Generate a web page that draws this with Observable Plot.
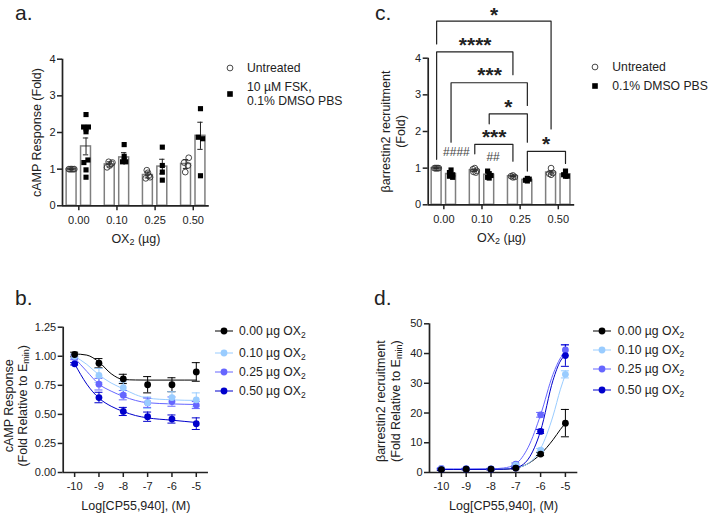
<!DOCTYPE html>
<html><head><meta charset="utf-8">
<script src="https://cdn.jsdelivr.net/npm/d3@7"></script>
<script src="https://cdn.jsdelivr.net/npm/@observablehq/plot@0.6"></script>
<style>
html,body{margin:0;padding:0;background:#fff}
#page{position:relative;width:709px;height:513px;overflow:hidden;font-family:"Liberation Sans",Arial,sans-serif;color:#222}
.tag{position:absolute;font-size:21px;line-height:21px}
.lg{position:absolute;font-size:12.2px;line-height:14px;white-space:nowrap}
.lg sub{font-size:8.5px;line-height:0}
.key{position:absolute;overflow:visible}
</style></head><body><div id="page"></div>
<script>
const INK = "#222", BAR = "#7f7f7f";
const doseLabels = ["0.00","0.10","0.25","0.50"];
const concTicks = [-10,-9,-8,-7,-6,-5];
const doseSeries = ["0.00 µg OX~2~","0.10 µg OX~2~","0.25 µg OX~2~","0.50 µg OX~2~"];
const doseColors = ["#000000","#99ccff","#6666ff","#0000cc"];

// Panel a
const aUntreatedMean = [1.0,1.13,0.84,1.14];
const aUntreatedErr  = [0.01,0.07,0.08,0.12];
const aFskMean = [1.62,1.32,1.07,1.91];
const aFskErr  = [0.23,0.13,0.20,0.37];
const aUntreatedPts = [[1,1,1,1,1],[1.05,1.2,1.15,1.18,1.1],[0.97,0.9,0.75,0.78,0.82],[1.31,1.18,1.1,0.92]];
const aUntreatedSlots = [[-1,-0.5,0,0.5,1],[-1,-0.4,0.6,1,0],[-0.4,0,-0.8,0.8,0.3],[1,-0.7,0.7,-0.3]];
const aFskPts = [[2.49,2.15,2.15,2.02,2.1,1.18,1.25,0.98,0.78],[1.67,1.35,1.25,1.2,1.2],[1.6,1.1,0.92,0.7],[2.65,1.87,1.83,0.82]];
const aFskSlots = [[0,-0.9,0.9,0,0,-0.8,0.7,0,0],[0,0,0,-0.6,0.6],[0,0,0,0],[0,-0.8,0.8,0]];

// Panel c
const cUntreatedMean = [1.0,0.94,0.78,0.88];
const cUntreatedErr  = [0.01,0.03,0.01,0.04];
const cDmsoMean = [0.84,0.82,0.68,0.83];
const cDmsoErr  = [0.04,0.04,0.02,0.03];
const cUntreatedPts = [[1,1,1,1,1],[1.0,0.97,0.93,0.9,0.88],[0.8,0.78,0.76,0.75],[1.0,0.87,0.85,0.82]];
const cUntreatedSlots = [[-0.8,-0.4,0,0.4,0.8],[0,-0.7,0.7,-0.5,0.4],[0,-0.7,0.7,0],[0,0.7,-0.7,0]];
const cDmsoPts = [[0.95,0.88,0.82,0.78,0.75],[0.92,0.85,0.8,0.75,0.73],[0.7,0.67,0.65,0.72],[0.92,0.82,0.78,0.78]];
const cDmsoSlots = [[0,-0.6,0.6,-0.6,0.6],[-0.6,0,0.7,-0.6,0],[0.7,-0.7,0,0],[0,-0.7,0.7,0]];
// group index + series (0 untreated, 1 DMSO) of each bracket foot, bracket top and foot heights
const brLeftGroup  = [0,0,0,1,1,2];
const brLeftSeries = [0,0,1,1,0,1];
const brRightGroup = [3,2,2,2,2,3];
const brRightSeries= [0,0,1,1,0,1];
const brTop   = [5.01,4.17,3.33,2.48,1.65,1.46];
const brLeftEnd  = [4.39,1.24,1.71,2.21,1.39,0.92];
const brRightEnd = [2.07,3.55,2.71,1.71,1.19,1.13];
const brStars = ["*","****","***","*","***","*"];
const brStarX = [1.32,0.82,1.2,1.69,1.32,2.68];
const brStarY = [5.25,4.42,3.6,2.72,1.9,1.73];
const hashLabels = ["####","##"];
const hashX = [0.33,1.29];
const hashY = [1.45,1.31];

// Panel b
const bMeans = [[1.015,0.94,0.805,0.755,0.755,0.865],[1.0,0.835,0.73,0.60,0.645,0.625],[0.99,0.76,0.665,0.60,0.61,0.58],[0.935,0.645,0.525,0.48,0.46,0.42]];
const bErrs  = [[0.02,0.04,0.04,0.07,0.06,0.08],[0.02,0.06,0.05,0.05,0.05,0.06],[0.02,0.05,0.04,0.04,0.04,0.03],[0.01,0.045,0.035,0.04,0.035,0.05]];
const bCurveX = [-10,-9.5,-9,-8.5,-8,-7.5,-7,-6,-5];
const bCurves = [[1.02,1.01,0.95,0.85,0.80,0.796,0.795,0.795,0.795],[1.0,0.93,0.84,0.77,0.72,0.67,0.64,0.625,0.62],[0.985,0.87,0.76,0.70,0.655,0.62,0.60,0.59,0.585],[0.935,0.76,0.64,0.57,0.525,0.49,0.47,0.45,0.43]];

// Panel d
const dMeans = [[1,1.1,1.1,1.5,6.2,16.6],[1.2,1.2,1.2,2.5,7.5,33],[1.4,1.3,1.2,2.8,19.4,41.2],[1,1.1,1.1,1.5,13.8,39.3]];
const dErrs  = [[0.3,0.2,0.2,0.3,0.5,4.6],[0.2,0.2,0.2,0.3,0.6,1.2],[0.2,0.2,0.2,0.4,0.8,1.8],[0.2,0.2,0.2,0.3,0.7,3.6]];
const dCurveX = [-10,-9,-8,-7.5,-7,-6.5,-6,-5.5,-5.2,-5];
const dCurves = [[1,1,1.05,1.1,1.5,3,6.2,11,14.5,16.6],[1.1,1.1,1.1,1.2,1.6,3,8,19,28,33],[1.2,1.2,1.25,1.5,2.9,8.5,19.4,33,38.5,40.5],[1,1,1.05,1.1,1.6,4.5,14,31,37.5,39.5]];

const FONT = '"Liberation Sans",Arial,sans-serif';
const page = document.getElementById("page");

// ~x~ in a text becomes a lowered, smaller tspan
function applySubs(svg){
  svg.querySelectorAll("text, tspan").forEach(el=>{
    if(el.children.length || !el.textContent.includes("~")) return;
    const parts = el.textContent.split("~"); el.textContent = "";
    parts.forEach((p,i)=>{
      if(!p) return;
      const t = document.createElementNS("http://www.w3.org/2000/svg","tspan");
      t.textContent = p;
      if(i%2){t.setAttribute("baseline-shift","-22%");t.setAttribute("font-size","72%");}
      el.appendChild(t);
    });
  });
}
function place(svg,left,top){
  applySubs(svg);
  svg.style.position="absolute";svg.style.left=left+"px";svg.style.top=top+"px";
  page.appendChild(svg);
}
function axes({xDomain,yDomain,xTicks,xFormat,yTicks,yFormat,xLabel,xLabelDy,yLabel,yLabelDx,yLabelDy=0}){
  return [
    Plot.axisX({ticks:xTicks,tickFormat:xFormat,tickSize:5,tickPadding:5,strokeWidth:1.5,stroke:INK,fill:INK,label:null,fontSize:11}),
    Plot.axisY({ticks:yTicks,tickFormat:yFormat,tickSize:5,tickPadding:2,strokeWidth:1.5,stroke:INK,fill:INK,label:null,fontSize:11}),
    Plot.ruleY([yDomain[0]],{x1:xDomain[0],x2:xDomain[1],stroke:INK,strokeWidth:1.7}),
    Plot.ruleX([xDomain[0]],{y1:yDomain[0],y2:yDomain[1],stroke:INK,strokeWidth:1.7}),
    Plot.text([xLabel],{frameAnchor:"bottom",lineAnchor:"middle",dy:xLabelDy,fontSize:12.5,fill:INK}),
    Plot.text([yLabel],{frameAnchor:"left",textAnchor:"middle",lineAnchor:"middle",rotate:-90,dx:yLabelDx,dy:yLabelDy,fontSize:12.5,lineHeight:1.2,fill:INK})
  ];
}
const tidy = (means,errs,pts,slots)=>({
  bars: means.map((m,g)=>({g,m,e:errs[g]})),
  points: pts.flatMap((vs,g)=>vs.map((v,i)=>({g,v,s:slots[g][i]})))
});
const OFF=0.189, HW=0.13, CAP=0.07, SLOT=0.07;
function barMarks(t,series,symbol){
  const o = series? OFF : -OFF;
  const isOpen = symbol==="circle";
  return [
    Plot.rectY(t.bars,{x1:d=>d.g+o-HW,x2:d=>d.g+o+HW,y1:0,y2:"m",fill:"#fff",stroke:BAR,strokeWidth:1.5}),
    Plot.ruleX(t.bars,{x:d=>d.g+o,y1:d=>d.m-d.e,y2:d=>d.m+d.e,stroke:INK,strokeWidth:1}),
    Plot.ruleY(t.bars,{x1:d=>d.g+o-CAP,x2:d=>d.g+o+CAP,y:d=>d.m+d.e,stroke:INK,strokeWidth:1}),
    Plot.ruleY(t.bars,{x1:d=>d.g+o-CAP,x2:d=>d.g+o+CAP,y:d=>d.m-d.e,stroke:INK,strokeWidth:1}),
    isOpen
      ? Plot.dot(t.points,{x:d=>d.g+o+d.s*SLOT,y:"v",r:2.9,fill:"none",stroke:"#333",strokeWidth:0.9})
      : Plot.dot(t.points,{x:d=>d.g+o+d.s*SLOT,y:"v",symbol:"square",r:2.9,fill:"#000",stroke:"none"})
  ];
}
function barPanel({left,top,width,height,marginLeft,marginTop,marginBottom,xDomain,yLabel,yLabelDx,extra=[],left0,right0}){
  const yDomain=[0,4];
  return place(Plot.plot({
    width,height,marginLeft,marginTop,marginBottom,marginRight:width-marginLeft-(xDomain[1]-xDomain[0])*38.15,
    style:{fontFamily:FONT,fontSize:"11px",background:"transparent",overflow:"visible"},
    x:{domain:xDomain},y:{domain:yDomain},
    marks:[
      ...barMarks(left0.t,0,"circle"),
      ...barMarks(right0.t,1,"square"),
      ...axes({xDomain,yDomain,xTicks:[0,1,2,3],xFormat:i=>doseLabels[i],yTicks:[0,1,2,3,4],yFormat:d=>`${d}`,xLabel:"OX~2~ (µg)",xLabelDy:33,yLabel,yLabelDx}),
      ...extra
    ]
  }),left,top);
}

// panel a
barPanel({left:0,top:0,width:215,height:260,marginLeft:62,marginTop:58.7,marginBottom:54.7,xDomain:[-0.4275,3.42],
  yLabel:"cAMP Response (Fold)",yLabelDx:-26,
  left0:{t:tidy(aUntreatedMean,aUntreatedErr,aUntreatedPts,aUntreatedSlots)},
  right0:{t:tidy(aFskMean,aFskErr,aFskPts,aFskSlots)}});

// panel c brackets
const footX=(g,s)=>g+(s?OFF:-OFF);
const bracketPts = brTop.flatMap((top,i)=>{
  const a=footX(brLeftGroup[i],brLeftSeries[i]), b=footX(brRightGroup[i],brRightSeries[i]);
  return [{i,x:a,y:brLeftEnd[i]},{i,x:a,y:top},{i,x:b,y:top},{i,x:b,y:brRightEnd[i]}];
});
const bracketMarks=[
  Plot.line(bracketPts,{x:"x",y:"y",z:"i",stroke:INK,strokeWidth:1.2,curve:"linear"}),
  Plot.text(brStars.map((s,i)=>({s,x:brStarX[i],y:brStarY[i]})),{x:"x",y:"y",text:"s",fontSize:21,fontWeight:"bold",fill:INK,dy:2.5}),
  Plot.text(hashLabels.map((s,i)=>({s,x:hashX[i],y:hashY[i]})),{x:"x",y:"y",text:"s",fontSize:12,fill:"#444"})
];
barPanel({left:360,top:0,width:215,height:260,marginLeft:67.7,marginTop:57.7,marginBottom:55.7,xDomain:[-0.41,3.43],
  yLabel:"βarrestin2 recruitment\n(Fold)",yLabelDx:-35.5,extra:bracketMarks,
  left0:{t:tidy(cUntreatedMean,cUntreatedErr,cUntreatedPts,cUntreatedSlots)},
  right0:{t:tidy(cDmsoMean,cDmsoErr,cDmsoPts,cDmsoSlots)}});

// dose-response panels
function drPanel({left,top,width,height,marginLeft,marginTop,marginBottom,xDomain,yDomain,yTicks,yFormat,step,means,errs,curveX,curves,yLabel,yLabelDx,yLabelDy}){
  const capX=4/step;
  const curveMarks=[], errMarks=[], dotMarks=[];
  doseSeries.forEach((_,k)=>{
    const color=doseColors[k];
    const rows=concTicks.map((x,i)=>({x,m:means[k][i],e:errs[k][i]}));
    const lineRows=curveX.map((x,i)=>({x,y:curves[k][i]}));
    curveMarks.push(Plot.line(lineRows,{x:"x",y:"y",stroke:color,strokeWidth:1,curve:"monotone-x"}));
    errMarks.push(
      Plot.ruleX(rows,{x:"x",y1:d=>d.m-d.e,y2:d=>d.m+d.e,stroke:color,strokeWidth:1}),
      Plot.ruleY(rows,{x1:d=>d.x-capX,x2:d=>d.x+capX,y:d=>d.m+d.e,stroke:color,strokeWidth:1}),
      Plot.ruleY(rows,{x1:d=>d.x-capX,x2:d=>d.x+capX,y:d=>d.m-d.e,stroke:color,strokeWidth:1}));
    dotMarks.push(Plot.dot(rows,{x:"x",y:"m",r:3.4,fill:color,stroke:"none"}));
  });
  place(Plot.plot({
    width,height,marginLeft,marginTop,marginBottom,marginRight:width-marginLeft-(xDomain[1]-xDomain[0])*step,
    style:{fontFamily:FONT,fontSize:"11px",background:"transparent",overflow:"visible"},
    x:{domain:xDomain},y:{domain:yDomain},
    marks:[
      ...curveMarks,
      ...errMarks,
      ...axes({xDomain,yDomain,xTicks:concTicks,xFormat:d=>`${d}`,yTicks,yFormat,xLabel:"Log[CP55,940], (M)",xLabelDy:33,yLabel,yLabelDx,yLabelDy}),
      dotMarks[2],dotMarks[1],dotMarks[3],dotMarks[0]
    ]
  }),left,top);
}
drPanel({left:0,top:270,width:215,height:243,marginLeft:62.7,marginTop:56.7,marginBottom:41,
  xDomain:[-10.47,-4.5],yDomain:[0,1.25],yTicks:[0,0.25,0.5,0.75,1,1.25],yFormat:d3.format(".2f"),step:24.33,
  means:bMeans,errs:bErrs,curveX:bCurveX,curves:bCurves,yLabel:"cAMP Response\n(Fold Relative to E~min~)",yLabelDx:-48,yLabelDy:6});
drPanel({left:360,top:270,width:225,height:243,marginLeft:69,marginTop:53.3,marginBottom:41,
  xDomain:[-10.48,-4.5],yDomain:[0,50],yTicks:[0,10,20,30,40,50],yFormat:d3.format("d"),step:24.8,
  means:dMeans,errs:dErrs,curveX:dCurveX,curves:dCurves,yLabel:"βarrestin2 recruitment\n(Fold Relative to E~min~)",yLabelDx:-42,yLabelDy:3});

// panel letters
[["a.",15,2],["c.",375,2],["b.",15,287],["d.",374,287]].forEach(([t,x,y])=>{
  const d=document.createElement("div");d.className="tag";d.textContent=t;d.style.left=x+"px";d.style.top=y+"px";page.appendChild(d);
});

// legends
function text(html,x,cy,lines=1){
  const d=document.createElement("div");d.className="lg";d.innerHTML=html;d.style.left=x+"px";d.style.top=(cy-7*lines)+"px";page.appendChild(d);
}
function key(x,cy,body){
  const d=document.createElement("div");
  d.innerHTML=`<svg class="key" width="24" height="14" style="left:${x-12}px;top:${cy-7}px">${body}</svg>`;
  page.appendChild(d.firstChild);
}
const OPEN='<circle cx="12" cy="7" r="2.9" fill="none" stroke="#333" stroke-width="0.9"/>';
const SQ='<rect x="9.2" y="4.2" width="5.6" height="5.6" fill="#000"/>';
key(230,67.7,OPEN);text("Untreated",247,67.7);
key(230,94.3,SQ);text("10 µM FSK,<br>0.1% DMSO PBS",247,94,2);
key(595.3,66.7,OPEN);text("Untreated",612.3,66.7);
key(595.3,86,SQ);text("0.1% DMSO PBS",612.3,86);
const fmtSeries=s=>s.replace(/~(.+?)~/,"<sub>$1</sub>");
const swatch=c=>`<line x1="3" x2="21" y1="7" y2="7" stroke="${c}" stroke-width="1"/><circle cx="12" cy="7" r="3.4" fill="${c}"/>`;
[330.7,352.7,371.7,390.7].forEach((cy,i)=>{key(223.5,cy,swatch(doseColors[i]));text(fmtSeries(doseSeries[i]),239,cy);});
[330.7,350,369.3,390].forEach((cy,i)=>{key(602,cy,swatch(doseColors[i]));text(fmtSeries(doseSeries[i]),617.7,cy);});
</script></body></html>
